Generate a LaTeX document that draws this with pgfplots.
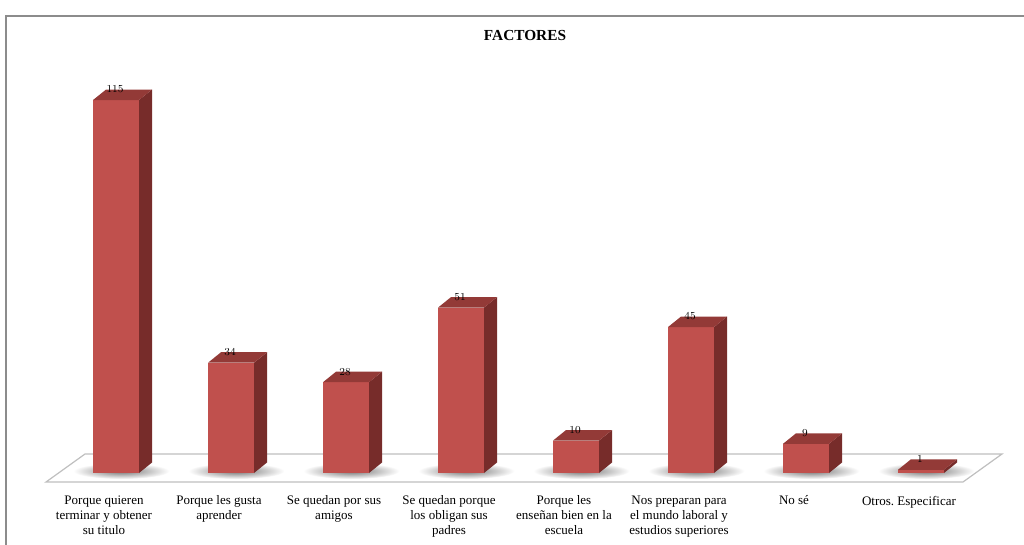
\documentclass[border=0pt]{standalone}
\usepackage{pgfplots}
\pgfplotsset{compat=1.18}
\usepackage{pgfplotstable}
\usepackage{fontspec}
\setmainfont{Liberation Serif}

\definecolor{barfront}{HTML}{C0504D}
\definecolor{bartop}{HTML}{933A37}
\definecolor{barside}{HTML}{772C2A}
\definecolor{framegray}{HTML}{8C8C8C}
\definecolor{floorgray}{HTML}{BFBFBF}

% empty mark, the prism is drawn by the scatter code
\pgfdeclareplotmark{blank}{}

\pgfplotstableread{
x v
0 115
1 34
2 28
3 51
4 10
5 45
6 9
7 1
}\factores

\begin{document}
\begin{tikzpicture}[x=0.75pt, y=-0.75pt]
\path[use as bounding box] (0,0) rectangle (1024,545);
\draw[framegray, line width=1.1pt] (6,545) -- (6,16) -- (1024,16);
\node[font=\fontsize{11.5}{13}\selectfont\bfseries] at (525,36) {FACTORES};
% floor
\filldraw[fill=white, draw=floorgray, line width=0.9pt] (46,482) -- (963,482) -- (1002,454) -- (85,454) -- cycle;

\begin{axis}[
  at={(0.75pt,-354.75pt)}, anchor=south west,
  scale only axis,
  x=86.25pt, y=2.43225pt,
  xmin=-1, xmax=7.8, ymin=0, ymax=120,
  clip=false,
  axis y line=none, axis x line*=bottom,
  x axis line style={draw=none},
  major tick length=0pt,
  xtick={0,...,7},
  xticklabels={{Porque quieren\\terminar y obtener\\su titulo},
    {Porque les gusta\\aprender},
    {Se quedan por sus\\amigos},
    {Se quedan porque\\los obligan sus\\padres},
    {Porque les\\enseñan bien en la\\escuela},
    {Nos preparan para\\el mundo laboral y\\estudios superiores},
    {No sé},
    {Otros.\ Especificar}},
  xticklabel style={align=center, anchor=north, inner sep=0pt,
    font=\fontsize{9.75}{11.25}\selectfont, yshift=-17pt, xshift=-9pt},
]
\addplot[
  scatter, only marks, mark=blank, draw=none,
  point meta=y,
  visualization depends on={rawy \as \val},
  scatter/@pre marker code/.code={%
    \pgfmathsetmacro\h{\val*2.43225}%
    \shade[draw=none, inner color=black!55, outer color=white]
      (4pt,{-\h pt+1.5pt}) ellipse [x radius=36pt, y radius=6pt];
    \fill[draw=none, barfront] (-17.25pt,{-\h pt}) rectangle (17.25pt,0pt);
    \fill[draw=none, barside] (17.25pt,{-\h pt}) -- (27pt,{-\h pt+7.875pt})
      -- (27pt,7.875pt) -- (17.25pt,0pt) -- cycle;
    \fill[draw=none, bartop] (-17.25pt,0pt) -- (17.25pt,0pt) -- (27pt,7.875pt)
      -- (-7.5pt,7.875pt) -- cycle;
  },
  scatter/@post marker code/.code={},
] table[x=x, y=v] {\factores};

\addplot[
  only marks, mark=blank, draw=none,
  nodes near coords, point meta=rawy,
  every node near coord/.append style={anchor=center, inner sep=0pt,
    yshift=7.9pt, xshift=-0.75pt, text=black,
    font=\fontsize{8}{9}\selectfont},
] table[x=x, y=v] {\factores};
\end{axis}
\end{tikzpicture}
\end{document}
